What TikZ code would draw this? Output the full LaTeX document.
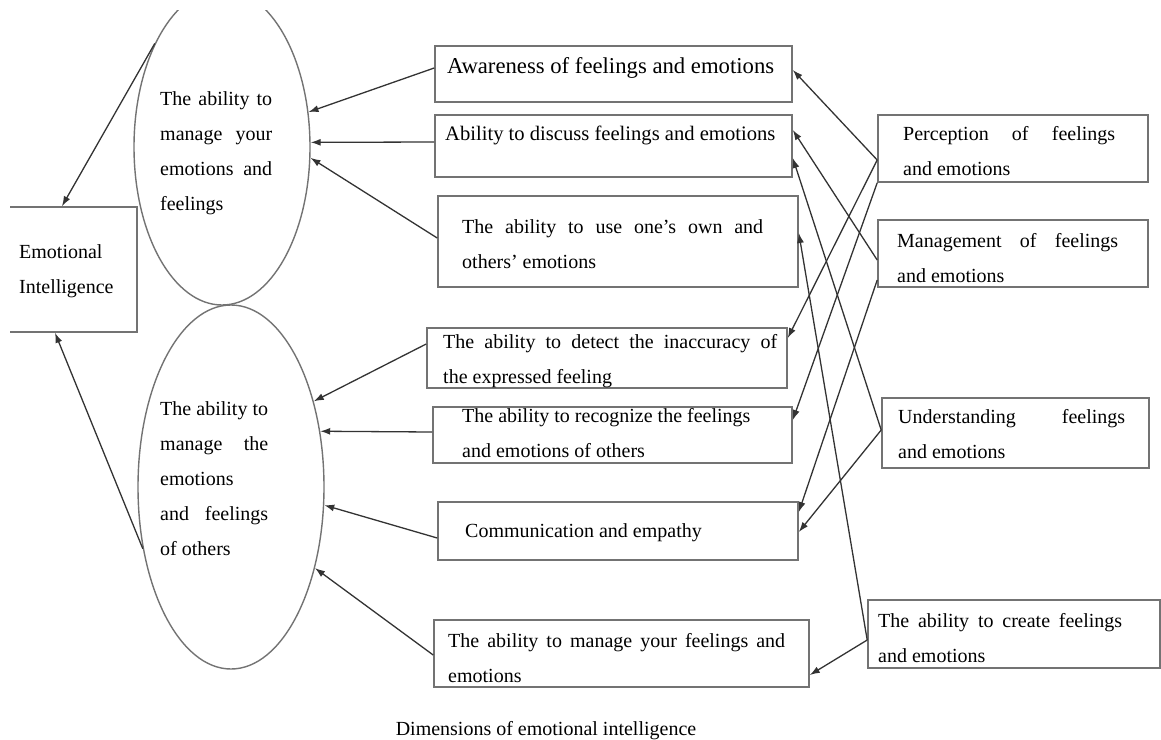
\documentclass[tikz,border=0pt]{standalone}
\usepackage{fontspec}
\setmainfont{Liberation Serif}
\usetikzlibrary{shapes.geometric,arrows.meta}
\tolerance=10000
\hbadness=10000

\begin{document}
\begin{tikzpicture}[x=1pt,y=-1pt,
    box/.style={draw=black!55, line width=1.6pt, rectangle, inner sep=0pt},
    oval/.style={draw=black!55, line width=1.4pt, ellipse, inner sep=0pt},
    txt/.style={anchor=base west, inner sep=0pt, font=\fontsize{20}{35}\selectfont},
    link/.style={draw=black!80, line width=1.3pt, -{Latex[length=10pt,width=7pt]}}]
    \useasboundingbox (0,0) rectangle (1161,739);
    \clip (10,10) rectangle (1161,739);

    % left part
    \node[box, minimum width=141pt, minimum height=125pt] (ei) at (66.5,269.5) {};
    \node[txt, align=left] (t-ei) at (19,293) {Emotional\\Intelligence};
    \node[oval, minimum width=176pt, minimum height=316pt] (upper) at (222,147) {};
    \node[oval, minimum width=186pt, minimum height=364pt] (lower) at (231,487) {};
    \node[txt, align=justify, text width=112pt] (t-upper) at (160,105)
        {The ability to\linebreak manage your\linebreak emotions and\linebreak feelings};
    \node[txt, align=justify, text width=108pt] (t-lower) at (160,415)
        {The ability to\linebreak manage the\linebreak emotions\newline and feelings\linebreak of others};

    % middle boxes
    \node[box, minimum width=357pt, minimum height=56pt] (aware) at (613.5,74) {};
    \node[box, minimum width=357pt, minimum height=62pt] (discuss) at (613.5,146) {};
    \node[box, minimum width=360pt, minimum height=91pt] (useown) at (618,241.5) {};
    \node[box, minimum width=360pt, minimum height=60pt] (detect) at (607,358) {};
    \node[box, minimum width=359pt, minimum height=56pt] (recog) at (612.5,435) {};
    \node[box, minimum width=360pt, minimum height=58pt] (commun) at (618,531) {};
    \node[box, minimum width=375pt, minimum height=67pt] (manage) at (621.5,653.5) {};

    \node[txt, font=\fontsize{22.7}{27}\selectfont] (t-aware) at (447,73) {Awareness of feelings and emotions};
    \node[txt, font=\fontsize{20.6}{35}\selectfont] (t-discuss) at (445,140) {Ability to discuss feelings and emotions};
    \node[txt, align=justify, text width=301pt] (t-useown) at (462,233)
        {The ability to use one's own and\linebreak others' emotions};
    \node[txt, align=justify, text width=334pt] (t-detect) at (443,348)
        {The ability to detect the inaccuracy of\linebreak the expressed feeling};
    \node[txt, align=left] (t-recog) at (462,457) {The ability to recognize the feelings\\and emotions of others};
    \node[txt] (t-commun) at (465,537) {Communication and empathy};
    \node[txt, align=justify, text width=337pt] (t-manage) at (448,647)
        {The ability to manage your feelings and\linebreak emotions};

    % right boxes
    \node[box, minimum width=270pt, minimum height=67pt] (perc) at (1013,148.5) {};
    \node[box, minimum width=270pt, minimum height=67pt] (mgmt) at (1013,253.5) {};
    \node[box, minimum width=267pt, minimum height=70pt] (under) at (1015.5,433) {};
    \node[box, minimum width=292pt, minimum height=68pt] (create) at (1014,634) {};

    \node[txt, align=justify, text width=212pt] (t-perc) at (903,140)
        {Perception of feelings\linebreak and emotions};
    \node[txt, align=justify, text width=221pt] (t-mgmt) at (897,247)
        {Management of feelings\linebreak and emotions};
    \node[txt, align=justify, text width=227pt] (t-under) at (898,423)
        {Understanding feelings\linebreak and emotions};
    \node[txt, align=justify, text width=244pt] (t-create) at (878,627)
        {The ability to create feelings\linebreak and emotions};

    \node[anchor=base, inner sep=0pt, font=\fontsize{20}{24}\selectfont] (caption) at (546,735)
        {Dimensions of emotional intelligence};

    % right to middle
    \draw[link] ([yshift=-11.5pt]perc.west) -- ([yshift=4pt]aware.east);
    \draw[link] ([yshift=-11.5pt]perc.west) -- ([yshift=20pt]detect.east);
    \draw[link] (perc.south west) -- ([yshift=15pt]recog.east);
    \draw[link] ([yshift=-6.5pt]mgmt.west) -- ([yshift=16pt]discuss.east);
    \draw[link] ([yshift=-26.5pt]mgmt.west) -- ([yshift=19pt]commun.east);
    \draw[link] ([yshift=3pt]under.west) -- ([yshift=-12pt]discuss.east);
    \draw[link] ([yshift=3pt]under.west) -- ([yshift=-1pt]commun.east);
    \draw[link] ([yshift=-6pt]create.west) -- ([yshift=8.5pt]useown.east);
    \draw[link] ([yshift=-6pt]create.west) -- ([yshift=-21.5pt]manage.east);

    % middle to ovals
    \draw[link] ([yshift=6pt]aware.west) -- (upper.22);
    \draw[link] ([yshift=4pt]discuss.west) -- (upper.3);
    \draw[link] ([yshift=3.5pt]useown.west) -- (upper.-7);
    \draw[link] ([yshift=14pt]detect.west) -- (lower.46);
    \draw[link] ([yshift=3pt]recog.west) -- (lower.32);
    \draw[link] ([yshift=-7pt]commun.west) -- (lower.-11);
    \draw[link] ([yshift=-1.5pt]manage.west) -- (lower.-44);

    % ovals to emotional intelligence
    \draw[link] (upper.123) -- ([xshift=-4.5pt]ei.north);
    \draw[link] (lower.215) -- ([xshift=-11.5pt]ei.south);
\end{tikzpicture}
\end{document}
